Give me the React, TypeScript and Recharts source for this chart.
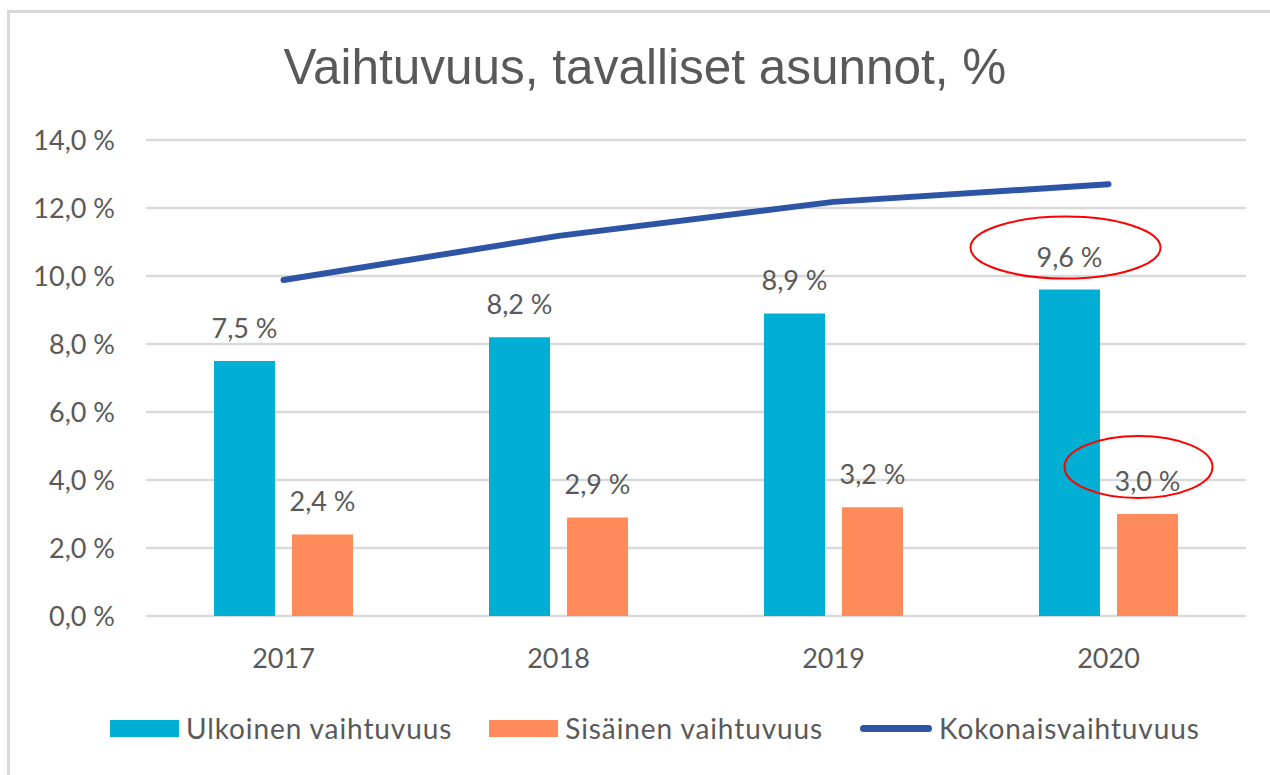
import React from 'react';
import { ComposedChart, Bar, Line, XAxis, YAxis, CartesianGrid, LabelList } from 'recharts';

const years = ['2017', '2018', '2019', '2020'];
const ulkoinen = [7.5, 8.2, 8.9, 9.6];
const sisainen = [2.4, 2.9, 3.2, 3.0];
const kokonais = [9.88, 11.18, 12.18, 12.7];
const yTicks = [0, 2, 4, 6, 8, 10, 12, 14];

const data = years.map((year, i) => ({
  year,
  ulkoinen: ulkoinen[i],
  sisainen: sisainen[i],
  kokonais: kokonais[i],
}));

const CYAN = '#00AFD3';
const ORANGE = '#FF8B5A';
const BLUE = '#2E54A5';
const TEXT = '#595959';
const GRID = '#d9d9d9';
const FONT = 'Lato, "Open Sans", sans-serif';

const fmt = (v: number) => v.toFixed(1).replace('.', ',') + ' %';

// red rings drawn round the 2020 labels
const rings: Record<string, { dx: number; dy: number; rx: number; ry: number }> = {
  ulkoinen: { dx: -4, dy: -42, rx: 95, ry: 31 },
  sisainen: { dx: -9, dy: -47, rx: 74, ry: 31 },
};

const makeLabel = (key: string) => (props: any) => {
  const { x, y, width, value, index } = props;
  const cx = Number(x) + Number(width) / 2;
  const ring = index === years.length - 1 ? rings[key] : null;
  return (
    <g>
      <text x={cx} y={Number(y) - 23} textAnchor="middle" fill={TEXT} fontSize={27} fontFamily={FONT}>
        {fmt(Number(value))}
      </text>
      {ring && (
        <ellipse cx={cx + ring.dx} cy={Number(y) + ring.dy} rx={ring.rx} ry={ring.ry} fill="none" stroke="#FF0000" strokeWidth={2} />
      )}
    </g>
  );
};

const legendItems = [
  { name: 'Ulkoinen vaihtuvuus', color: CYAN, type: 'bar' },
  { name: 'Sisäinen vaihtuvuus', color: ORANGE, type: 'bar' },
  { name: 'Kokonaisvaihtuvuus', color: BLUE, type: 'line' },
];

export default function App() {
  return (
    <div style={{ position: 'absolute', left: 0, top: 0, width: 1270, height: 775, background: '#fff', overflow: 'hidden' }}>
      <div style={{ position: 'absolute', left: 7, top: 10, width: 1280, height: 800, borderTop: `3px solid ${GRID}`, borderLeft: `3px solid ${GRID}` }} />
      <div style={{ position: 'absolute', left: 0, top: 42, width: 1290, textAlign: 'center', fontFamily: '"Liberation Sans", Arial, sans-serif', fontSize: 49.5, lineHeight: '49px', color: TEXT }}>
        Vaihtuvuus, tavalliset asunnot, %
      </div>
      <div style={{ position: 'absolute', left: 0, top: 0 }}>
        <ComposedChart width={1270} height={775} data={data} margin={{ top: 140, right: 24, bottom: 109, left: 0 }} barSize={61} barGap={17}>
          <CartesianGrid vertical={false} stroke={GRID} strokeWidth={2.5} />
          <XAxis dataKey="year" axisLine={false} tickLine={false} tickSize={0} tickMargin={33} height={50}
            tick={{ fill: TEXT, fontSize: 27, fontFamily: FONT }} />
          <YAxis domain={[0, 14]} ticks={yTicks} interval={0} width={146} axisLine={false} tickLine={false} tickSize={0} tickMargin={31}
            tickFormatter={fmt} tick={{ fill: TEXT, fontSize: 27, fontFamily: FONT }} />
          <Bar dataKey="ulkoinen" fill={CYAN} isAnimationActive={false}>
            <LabelList dataKey="ulkoinen" content={makeLabel('ulkoinen')} />
          </Bar>
          <Bar dataKey="sisainen" fill={ORANGE} isAnimationActive={false}>
            <LabelList dataKey="sisainen" content={makeLabel('sisainen')} />
          </Bar>
          <Line dataKey="kokonais" type="linear" stroke={BLUE} strokeWidth={6} strokeLinecap="round" dot={false} activeDot={false} isAnimationActive={false} />
        </ComposedChart>
      </div>
      <div style={{ position: 'absolute', left: 110, top: 708, height: 40, display: 'flex', alignItems: 'center', gap: 37, fontFamily: FONT, fontSize: 28, letterSpacing: 0.9, color: TEXT }}>
        {legendItems.map((item) => (
          <div key={item.name} style={{ display: 'flex', alignItems: 'center', gap: 7 }}>
            {item.type === 'bar' ? (
              <div style={{ width: 69, height: 17, background: item.color }} />
            ) : (
              <div style={{ width: 72, height: 7, borderRadius: 4, background: item.color }} />
            )}
            <span>{item.name}</span>
          </div>
        ))}
      </div>
    </div>
  );
}
